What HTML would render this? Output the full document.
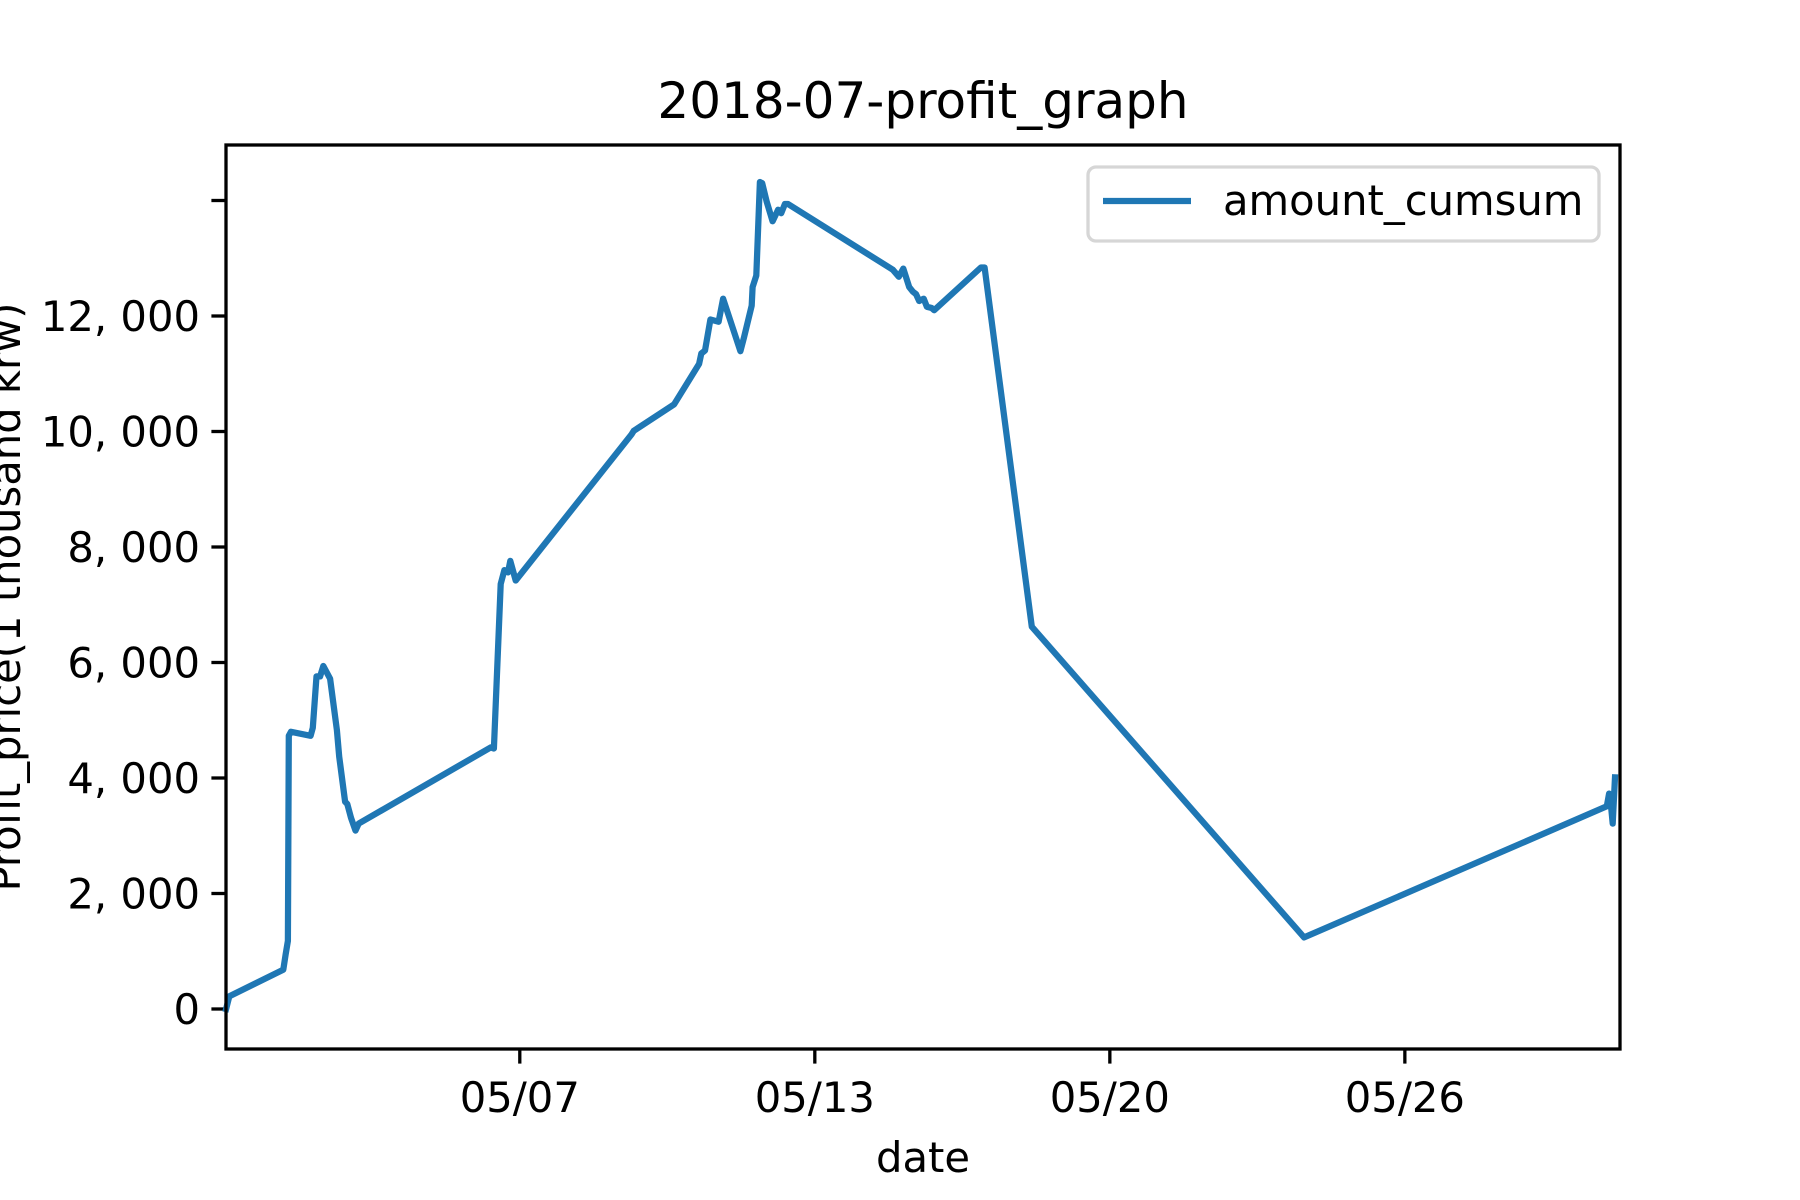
<!DOCTYPE html>
<html><head><meta charset="utf-8"><style>
html,body{margin:0;padding:0;background:#fff;}
svg{display:block;font-family:"DejaVu Sans","Liberation Sans",sans-serif;}
</style></head><body>
<svg id="chart" width="1800" height="1200" viewBox="0 0 1800 1200" xmlns="http://www.w3.org/2000/svg">
<rect width="1800" height="1200" fill="#fff"/>
<text x="923" y="118" font-size="50" text-anchor="middle">2018-07-profit_graph</text>
<g id="yticks"></g><g id="xticks"></g>
<path id="series" fill="none" stroke="#1f77b4" stroke-width="6.25" stroke-linejoin="round" stroke-linecap="square"/>
<rect x="226" y="145" width="1394" height="904" fill="none" stroke="#000" stroke-width="3.3"/>
<g transform="translate(-7,0)">
<rect x="1095" y="167" width="511" height="74" rx="8" fill="#fff" fill-opacity="0.8" stroke="#d6d6d6" stroke-width="3.3"/>
<line x1="1110" y1="201" x2="1198" y2="201" stroke="#1f77b4" stroke-width="6.25"/>
<text x="1230" y="215" font-size="41.7">amount_cumsum</text>
</g>
<text x="923" y="1172" font-size="41.7" text-anchor="middle">date</text>
<text transform="translate(20,597) rotate(-90)" font-size="41.7" text-anchor="middle">Profit_price(1 thousand krw)</text>
</svg>
<script>
const days = [0.53,0.6,1.79,1.84,1.89,1.91,1.96,2.39,2.44,2.52,2.6,2.67,2.82,2.97,3.02,3.15,3.2,3.28,3.38,3.45,6.36,6.43,6.58,6.66,6.74,6.79,6.91,9.46,9.51,10.4,10.95,11.0,11.08,11.2,11.38,11.48,11.86,11.94,12.11,12.13,12.21,12.29,12.34,12.44,12.57,12.69,12.76,12.84,12.91,15.22,15.35,15.45,15.58,15.66,15.73,15.8,15.9,15.97,16.07,16.13,17.16,17.24,18.28,24.28,30.95,31.0,31.05,31.08,31.13];
const values = [0,220,680,940,1180,4730,4800,4730,4870,5760,5760,5940,5720,4830,4370,3590,3550,3310,3090,3210,4530,4510,7360,7600,7560,7760,7420,9950,10010,10470,11170,11350,11400,11940,11900,12300,11390,11630,12180,12500,12700,14320,14300,13980,13640,13840,13780,13940,13940,12800,12680,12820,12500,12420,12380,12260,12300,12160,12140,12100,12840,12840,6620,1240,3510,3730,3450,3210,4010];
const yTicks = [0,2000,4000,6000,8000,10000,12000,14000];
const yTickLabels = ["0","2, 000","4, 000","6, 000","8, 000","10, 000","12, 000",""];
const xTicks = [7,13.5,20,26.5];
const xTickLabels = ["05/07","05/13","05/20","05/26"];
const X0=226,X1=1620,D0=0.527,D1=31.24;
const xs = d => X0 + (d-D0)/(D1-D0)*(X1-X0);
const ys = v => 1009 - v/2000*115.5;
const NS="http://www.w3.org/2000/svg";
let p="";
days.forEach((d,i)=>{p+=(i?"L":"M")+xs(d).toFixed(1)+","+ys(values[i]).toFixed(1);});
document.getElementById("series").setAttribute("d",p);
const yg=document.getElementById("yticks");
yTicks.forEach((v,i)=>{
  const l=document.createElementNS(NS,"line");
  
  
  l.setAttribute("x1",X0-14.6);l.setAttribute("x2",X0);l.setAttribute("y1",ys(v));l.setAttribute("y2",ys(v));
  l.setAttribute("stroke","#000");l.setAttribute("stroke-width","3.3");yg.appendChild(l);
  const t=document.createElementNS(NS,"text");
  
  
  t.setAttribute("x",X0-26);t.setAttribute("y",ys(v)+15);t.setAttribute("font-size","41.7");t.setAttribute("text-anchor","end");
  t.textContent=yTickLabels[i];yg.appendChild(t);
});
const xg=document.getElementById("xticks");
xTicks.forEach((d,i)=>{
  const l=document.createElementNS(NS,"line");
  
  
  l.setAttribute("x1",xs(d));l.setAttribute("x2",xs(d));l.setAttribute("y1",1049);l.setAttribute("y2",1049+14.6);
  l.setAttribute("stroke","#000");l.setAttribute("stroke-width","3.3");xg.appendChild(l);
  const t=document.createElementNS(NS,"text");
  
  
  t.setAttribute("x",xs(d));t.setAttribute("y",1112);t.setAttribute("font-size","41.7");t.setAttribute("text-anchor","middle");
  t.textContent=xTickLabels[i];xg.appendChild(t);
});
</script>
</body></html>
